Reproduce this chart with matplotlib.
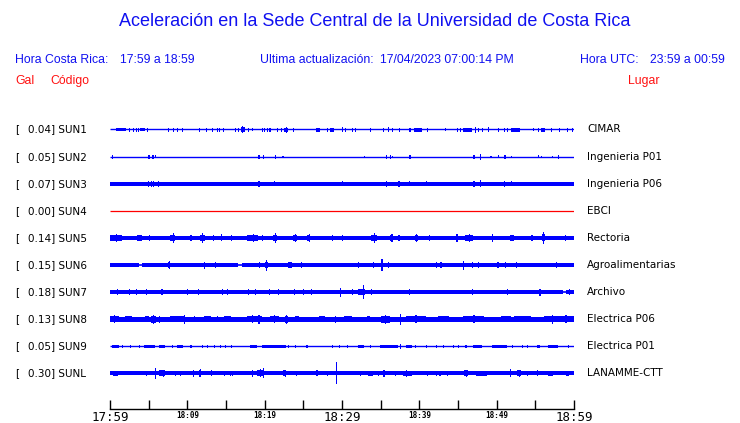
import matplotlib
matplotlib.use("Agg")
import matplotlib.pyplot as plt
from matplotlib.ticker import FixedLocator

# ---------------- data ----------------
title = "Aceleración en la Sede Central de la Universidad de Costa Rica"
codes = ["SUN1", "SUN2", "SUN3", "SUN4", "SUN5", "SUN6", "SUN7", "SUN8", "SUN9", "SUNL"]
gal = [0.04, 0.05, 0.07, 0.00, 0.14, 0.15, 0.18, 0.13, 0.05, 0.30]
places = ["CIMAR", "Ingenieria P01", "Ingenieria P06", "EBCI", "Rectoria",
          "Agroalimentarias", "Archivo", "Electrica P06", "Electrica P01", "LANAMME-CTT"]
# baseline half amplitude of each trace (trace units)
base_amp = [0.6, 0.5, 2.0, 0.5, 2.3, 2.0, 2.0, 2.6, 0.6, 2.0]
active = [True, True, True, False, True, True, True, True, True, True]

major_minutes = [0, 10, 20, 30, 40, 50, 60]
minor_minutes = [5, 15, 25, 35, 45, 55]
tick_labels = ["17:59", "18:09", "18:19", "18:29", "18:39", "18:49", "18:59"]
big_ticks = ["17:59", "18:29", "18:59"]

# bursts: (start minute, end minute, half amplitude)
sun1 = [(0.8, 2.1, 1.8), (2.46, 2.46, 2), (3.0, 3.0, 2), (3.3, 3.3, 2), (3.66, 3.66, 2),
        (3.9, 4.5, 1.8), (4.74, 4.74, 2), (7.5, 7.5, 2), (8.1, 8.1, 2), (8.7, 8.7, 2),
        (9.27, 9.27, 2), (11.55, 11.55, 2), (12.46, 12.46, 2), (13.2, 13.2, 2),
        (13.8, 13.8, 2), (14.1, 14.1, 2), (14.65, 14.65, 2), (16.1, 16.1, 2),
        (16.6, 16.6, 2), (16.9, 17.4, 2.3), (17.1, 17.1, 3.5), (17.8, 17.8, 2),
        (18.3, 18.3, 1.5), (19.6, 19.6, 2), (19.96, 19.96, 2), (20.3, 20.3, 2),
        (20.5, 20.8, 2.0), (21.6, 21.6, 2), (22.1, 22.1, 2), (22.5, 23.0, 2.0),
        (22.8, 22.8, 3), (23.6, 23.6, 2), (26.7, 27.2, 2.0), (28.1, 28.1, 2),
        (28.5, 29.0, 2.0), (30.0, 30.0, 2.5), (30.4, 30.4, 2), (31.25, 31.25, 2),
        (31.7, 31.7, 2), (33.6, 33.6, 2), (35.3, 35.3, 2), (36.0, 36.0, 2.5),
        (36.5, 36.5, 2), (37.4, 37.4, 2), (38.6, 38.9, 2.0), (39.3, 40.3, 2.0),
        (41.0, 41.0, 2), (43.3, 43.3, 1.5), (44.9, 44.9, 2), (45.3, 45.3, 2),
        (45.7, 46.8, 2.0), (47.2, 47.2, 3), (47.6, 47.6, 2), (48.1, 48.1, 2),
        (48.9, 48.9, 2.5), (50.2, 50.2, 2), (50.9, 50.9, 2), (51.3, 51.3, 2),
        (51.8, 53.0, 2.0), (54.7, 54.7, 1.5), (55.3, 55.3, 2), (55.7, 56.25, 2.0),
        (57.0, 57.0, 2), (58.0, 58.0, 2), (59.06, 59.06, 2), (59.7, 59.7, 2)]
sun2 = [(0.2, 0.4, 2), (4.9, 5.2, 2.0), (5.4, 5.7, 2.0), (5.8, 5.8, 1.5), (19.2, 19.2, 2),
        (19.8, 19.8, 2), (21.3, 21.4, 2), (22.3, 22.3, 1), (32.8, 32.8, 1), (35.7, 35.7, 2),
        (36.2, 36.2, 2), (36.5, 36.5, 1), (38.7, 38.9, 2.0), (47.0, 47.2, 2.0),
        (47.8, 47.8, 3), (49.2, 49.2, 1), (50.2, 50.2, 1.5), (51.0, 51.2, 2.0),
        (51.8, 51.8, 1), (55.3, 55.3, 1.5), (55.7, 55.7, 1), (57.1, 57.1, 1), (57.9, 57.9, 2)]
sun3 = [(4.9, 4.9, 2.9), (5.3, 5.3, 2.9), (5.6, 5.6, 2.9), (6.25, 6.25, 2.9),
        (19.2, 19.2, 3.0), (21.2, 21.2, 2.7), (30.0, 30.0, 2.7), (35.7, 35.7, 2.9),
        (37.3, 37.3, 2.9), (38.7, 38.7, 2.7), (40.9, 40.9, 2.7), (47.0, 47.0, 2.9),
        (47.8, 47.8, 3.7), (51.0, 51.0, 2.9), (51.8, 51.8, 2.7)]
sun4 = []
sun5 = [(0.0, 1.5, 3.0), (0.8, 0.8, 4.0), (3.5, 4.1, 3.0), (5.0, 5.0, 3.0), (7.8, 8.4, 3.4),
        (8.1, 8.1, 5.0), (10.4, 10.4, 3.0), (11.6, 12.3, 3.4), (11.9, 11.9, 4.8),
        (13.3, 13.3, 3.0), (14.3, 14.3, 3.5), (15.6, 15.6, 3.0), (17.7, 19.1, 3.0),
        (18.5, 18.5, 3.8), (19.6, 19.6, 3.0), (21.1, 21.6, 3.3), (21.3, 21.3, 4.8),
        (23.7, 24.2, 3.3), (23.9, 23.9, 4.3), (25.5, 25.9, 3.3), (25.7, 25.7, 4.3),
        (28.7, 28.7, 3.0), (30.0, 30.0, 3.0), (33.8, 34.5, 3.3), (34.1, 34.1, 4.8),
        (36.2, 36.6, 3.3), (36.4, 36.4, 4.3), (37.3, 37.3, 3.0), (39.4, 39.8, 3.0),
        (39.6, 39.6, 3.8), (41.3, 41.3, 3.0), (44.8, 44.8, 3.8), (45.9, 46.9, 3.0),
        (46.4, 46.4, 4.3), (49.4, 49.4, 3.8), (51.7, 52.2, 3.0), (54.5, 54.5, 3.0),
        (55.8, 56.25, 3.5), (56.0, 56.0, 5.8), (58.8, 58.8, 3.0)]
sun6 = [(7.5, 7.8, 3.0), (7.6, 7.6, 4.3), (12.1, 12.3, 3.0), (12.2, 12.2, 3.5),
        (13.6, 13.6, 3.0), (19.3, 19.3, 3.0), (20.0, 20.4, 3.2), (20.15, 20.15, 5.5),
        (23.0, 23.5, 3.0), (24.7, 24.7, 3.0), (32.1, 32.1, 3.0), (34.0, 34.0, 2.8),
        (35.1, 35.1, 6.0), (36.0, 36.0, 3.2), (42.1, 42.1, 3.0), (42.7, 42.9, 3.2),
        (45.7, 45.7, 4.5), (46.8, 46.8, 2.8), (47.6, 47.6, 3.0), (50.1, 50.3, 3.0),
        (51.1, 51.1, 2.8), (52.5, 52.5, 2.8), (57.7, 57.7, 3.0)]
sun7 = [(0.9, 0.9, 3.0), (2.4, 2.4, 2.8), (3.4, 3.4, 2.8), (4.7, 4.7, 2.8), (6.6, 6.8, 3.0),
        (10.0, 10.0, 2.8), (11.4, 11.4, 2.8), (14.5, 14.5, 2.8), (15.1, 15.1, 2.8),
        (17.8, 17.8, 2.8), (18.7, 18.7, 2.8), (20.6, 20.6, 2.8), (21.7, 21.9, 3.2),
        (23.8, 23.8, 2.8), (25.0, 25.0, 2.8), (26.0, 26.0, 2.8), (29.7, 29.9, 4.5),
        (31.25, 31.25, 2.8), (32.1, 33.0, 3.2), (32.7, 32.7, 7.0), (33.7, 33.7, 3.0),
        (38.7, 38.7, 2.8), (46.8, 47.0, 3.2), (51.3, 51.3, 2.8), (55.5, 55.7, 3.5),
        (59.3, 59.5, 3.0)]
sun8 = [(0.0, 1.1, 3.0), (0.5, 0.5, 3.8), (1.9, 2.8, 3.0), (4.5, 5.0, 3.0), (5.3, 5.9, 3.3),
        (5.6, 5.6, 4.5), (6.3, 6.3, 3.5), (7.8, 9.7, 3.0), (9.6, 9.6, 4.5), (10.8, 10.8, 3.0),
        (12.2, 13.1, 3.0), (13.8, 13.8, 3.2), (14.8, 15.7, 3.0), (17.7, 19.7, 3.2),
        (19.2, 19.2, 4.5), (18.4, 18.4, 4.0), (20.7, 21.8, 3.2), (21.2, 21.2, 4.0),
        (22.6, 23.0, 3.3), (22.8, 22.8, 4.5), (23.9, 24.4, 3.0), (27.0, 27.8, 3.0),
        (29.1, 29.1, 3.5), (30.2, 31.3, 3.0), (33.2, 33.6, 3.0), (35.1, 36.2, 3.3),
        (35.6, 35.6, 4.5), (37.5, 37.5, 5.5), (38.3, 40.9, 3.0), (39.5, 39.5, 3.8),
        (42.4, 43.9, 3.0), (45.7, 48.3, 3.2), (47.0, 47.0, 4.0), (50.5, 51.8, 3.2),
        (52.2, 54.4, 3.0), (56.1, 60.0, 3.2), (57.2, 57.2, 4.5), (58.9, 58.9, 4.0)]
sun9 = [(0.2, 1.1, 1.3), (1.5, 1.5, 1.5), (2.6, 2.6, 1.5), (3.7, 3.7, 1.5), (4.4, 5.8, 1.3),
        (6.4, 7.1, 1.3), (8.0, 8.0, 1.5), (8.6, 9.5, 1.3), (10.4, 10.4, 1.5),
        (11.9, 11.9, 1.5), (12.5, 12.5, 1.5), (13.4, 13.4, 1.5), (14.2, 14.2, 1.5),
        (14.9, 14.9, 1.5), (15.7, 15.7, 1.5), (18.1, 19.0, 1.3), (19.6, 22.8, 1.2),
        (23.0, 23.0, 1.5), (23.9, 23.9, 1.5), (25.4, 25.4, 1.5), (28.7, 28.7, 1.5),
        (29.6, 29.6, 1.5), (30.6, 30.6, 1.5), (32.1, 32.9, 1.3), (33.6, 33.6, 1.5),
        (34.9, 37.3, 1.2), (37.5, 37.5, 2.5), (38.3, 39.0, 1.3), (39.4, 39.4, 1.5),
        (40.9, 40.9, 1.5), (42.2, 42.2, 1.5), (43.1, 43.1, 1.5), (44.4, 44.4, 1.5),
        (45.0, 45.0, 1.5), (45.9, 46.1, 1.5), (47.0, 48.1, 1.5), (49.4, 51.3, 1.3),
        (52.0, 52.0, 1.5), (53.3, 53.3, 1.5), (53.9, 53.9, 1.5), (55.2, 55.6, 1.3),
        (56.6, 57.9, 1.2), (59.2, 59.2, 1.5)]
sunl = [(0.4, 1.0, 2.5), (4.6, 4.6, 2.8), (5.8, 5.8, 5.5), (6.4, 7.1, 3.0), (6.8, 6.8, 3.8),
        (8.4, 8.4, 2.8), (9.1, 9.1, 2.8), (10.7, 10.9, 3.5), (11.5, 11.7, 3.5),
        (11.6, 11.6, 4.0), (13.0, 13.0, 3.0), (14.7, 14.7, 2.8), (15.5, 15.5, 2.8),
        (15.8, 15.8, 2.8), (18.3, 18.3, 3.5), (19.0, 19.8, 3.0), (19.4, 19.4, 4.0),
        (19.8, 19.8, 5.0), (22.4, 22.8, 3.0), (22.6, 22.6, 3.5), (24.1, 24.1, 2.8),
        (26.7, 26.7, 3.0), (28.0, 28.0, 2.8), (29.2, 29.2, 11.0), (32.3, 32.3, 2.8),
        (33.4, 34.0, 2.8), (34.6, 34.6, 2.8), (35.3, 35.6, 3.5), (36.9, 36.9, 2.8),
        (37.9, 39.0, 2.8), (38.3, 38.3, 3.5), (41.0, 41.0, 2.8), (42.1, 42.1, 2.8),
        (42.6, 42.6, 2.8), (43.6, 43.6, 2.8), (45.8, 46.3, 3.0), (46.0, 46.0, 3.5),
        (47.3, 48.8, 2.5), (51.7, 51.7, 4.0), (52.6, 53.2, 3.0), (52.9, 52.9, 3.5),
        (53.9, 53.9, 2.8), (55.2, 55.2, 3.0), (56.7, 57.3, 2.5), (59.0, 59.4, 2.8)]
bursts = [sun1, sun2, sun3, sun4, sun5, sun6, sun7, sun8, sun9, sunl]

# stretches where a trace is only a thin line (start, end)
thin_gaps = {5: [(3.8, 4.2), (16.6, 17.1)], 6: [(58.6, 59.0)]}

# ---------------- layout ----------------
W, H = 740, 423
fig = plt.figure(figsize=(W / 100, H / 100), dpi=100)
fig.patch.set_facecolor("white")

BLUE = "#1010f0"
RED = "#ff1010"
TRACE = "#0000ff"


def fx(px):
    return px / W


def fy(py):
    return 1 - py / H


ax_top, ax_bot = 115, 409
ax = fig.add_axes([fx(110), fy(ax_bot), (574 - 110) / W, (ax_bot - ax_top) / H])
ax.set_xlim(0, 60)
ax.set_ylim(ax_bot, ax_top)
for s in ["left", "right", "top"]:
    ax.spines[s].set_visible(False)
ax.spines["bottom"].set_linewidth(1.0)
ax.set_yticks([])

row0, dy = 129.5, 27.1
MINW = 0.14
for i, code in enumerate(codes):
    y = row0 + dy * i
    col = TRACE if active[i] else "#ff0000"
    b = base_amp[i]
    gaps = thin_gaps.get(i, [])
    edges = [0.0]
    for g0, g1 in gaps:
        edges += [g0, g1]
    edges.append(60.0)
    for k in range(0, len(edges), 2):
        x0, x1 = edges[k], edges[k + 1]
        if b >= 1:
            ax.bar(x0, 2 * b, width=x1 - x0, bottom=y - b, align="edge",
                   color=col, linewidth=0, antialiased=False)
        else:
            ax.plot([x0, x1], [y, y], color=col, lw=1.0 if active[i] else 0.9,
                    solid_capstyle="butt")
    for g0, g1 in gaps:
        ax.plot([g0, g1], [y, y], color=col, lw=1.2, solid_capstyle="butt")
    if bursts[i]:
        xs = [t0 for t0, t1, a in bursts[i]]
        ws = [max(t1 - t0, MINW) for t0, t1, a in bursts[i]]
        bs = [y - a for t0, t1, a in bursts[i]]
        hs = [2 * a for t0, t1, a in bursts[i]]
        ax.bar(xs, hs, width=ws, bottom=bs, align="edge", color=col,
               linewidth=0, antialiased=False)

    fig.text(fx(15), fy(y), "[", fontsize=7.5, family="DejaVu Sans",
             ha="left", va="center", color="black")
    fig.text(fx(28), fy(y), f"{gal[i]:.2f}] {code}", fontsize=7.5,
             family="DejaVu Sans", ha="left", va="center", color="black")
    fig.text(fx(587), fy(y), places[i], fontsize=7.5, family="DejaVu Sans",
             ha="left", va="center", color="black")

# x axis ticks
ax.xaxis.set_major_locator(FixedLocator(major_minutes))
ax.xaxis.set_minor_locator(FixedLocator(minor_minutes))
ax.tick_params(axis="x", which="both", direction="in", length=6.5, width=1.0,
               color="black", pad=1.5)
ax.set_xticklabels(tick_labels)
for lab in ax.get_xticklabels():
    lab.set_family("DejaVu Sans Mono")
    if lab.get_text() in big_ticks:
        lab.set_fontsize(9)
    else:
        lab.set_fontsize(5.5)
        lab.set_fontweight("bold")

# title and headers
fig.text(fx(375), fy(22), title, color=BLUE, fontsize=13, family="Liberation Sans",
         ha="center", va="center")
hdr = dict(color=BLUE, fontsize=8.8, family="Liberation Sans", va="center", ha="left")
fig.text(fx(15), fy(60), "Hora Costa Rica:", **hdr)
fig.text(fx(120), fy(60), "17:59 a 18:59", **hdr)
fig.text(fx(260), fy(60), "Ultima actualización:", **hdr)
fig.text(fx(380), fy(60), "17/04/2023 07:00:14 PM", **hdr)
fig.text(fx(580), fy(60), "Hora UTC:", **hdr)
fig.text(fx(650), fy(60), "23:59 a 00:59", **hdr)
red = dict(color=RED, fontsize=8.8, family="Liberation Sans", va="center", ha="left")
fig.text(fx(15), fy(81), "Gal", **red)
fig.text(fx(50), fy(81), "Código", **red)
fig.text(fx(628), fy(81), "Lugar", **red)

fig.savefig("out.png", dpi=100, facecolor="white")
